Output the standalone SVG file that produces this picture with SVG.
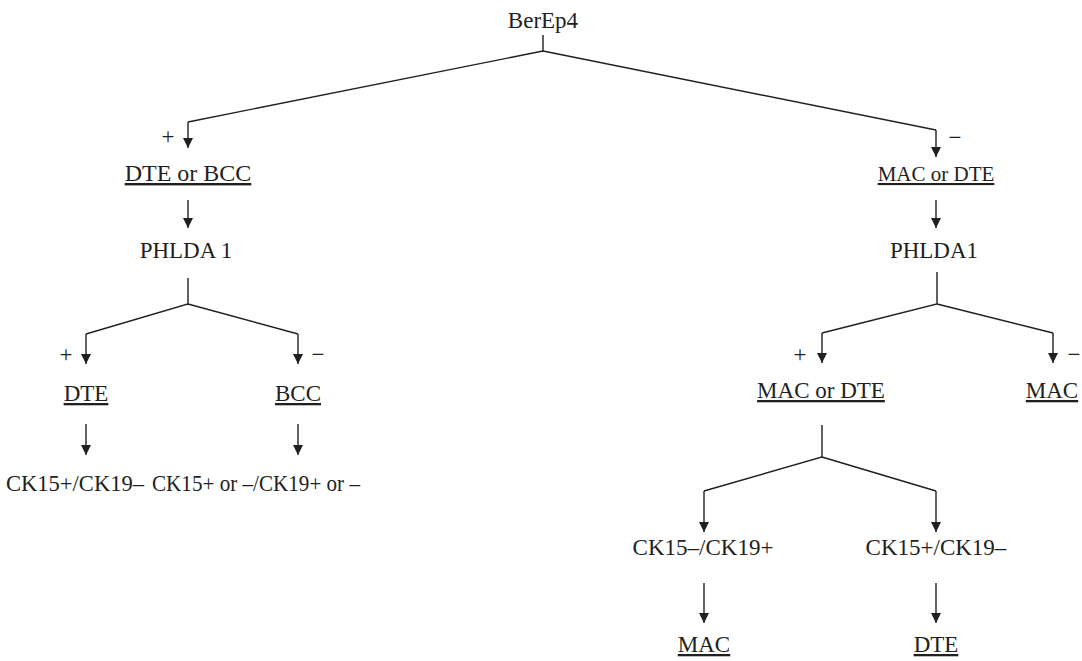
<svg xmlns="http://www.w3.org/2000/svg" width="1082" height="661" viewBox="0 0 1082 661">
<defs>
<style>
text{font-family:"Liberation Serif","Times New Roman",serif;font-size:23px;fill:#231f20;text-anchor:middle}
.u{text-decoration:underline}
.c{fill:none;stroke:#231f20;stroke-width:1.4}
</style>
<marker id="a" markerWidth="10" markerHeight="11" refX="10" refY="5" orient="auto" markerUnits="userSpaceOnUse" viewBox="0 0 10 10">
<path d="M0,0 L10,5 L0,10 Z" fill="#231f20"/>
</marker>
</defs>
<rect width="1082" height="661" fill="#fff"/>
<g id="connectors">
<path class="c" d="M543,35 V51 M543,51 L188,122 M543,51 L936,130"/>
<path class="c" d="M188,122 V148" marker-end="url(#a)"/>
<path class="c" d="M936,130 V157" marker-end="url(#a)"/>
<path class="c" d="M188,200 V228" marker-end="url(#a)"/>
<path class="c" d="M936,200 V228" marker-end="url(#a)"/>
<path class="c" d="M188,278 V304 L86,334 M188,304 L298,334"/>
<path class="c" d="M86,334 V364" marker-end="url(#a)"/>
<path class="c" d="M298,334 V364" marker-end="url(#a)"/>
<path class="c" d="M937,272 V304 L822,333 M937,304 L1053,333"/>
<path class="c" d="M822,333 V363" marker-end="url(#a)"/>
<path class="c" d="M1053,333 V363" marker-end="url(#a)"/>
<path class="c" d="M86,424 V455" marker-end="url(#a)"/>
<path class="c" d="M298,424 V455" marker-end="url(#a)"/>
<path class="c" d="M822,425 V457 L704,491 M822,457 L936,491"/>
<path class="c" d="M704,491 V532" marker-end="url(#a)"/>
<path class="c" d="M936,491 V532" marker-end="url(#a)"/>
<path class="c" d="M704,583 V623" marker-end="url(#a)"/>
<path class="c" d="M936,583 V623" marker-end="url(#a)"/>
<text x="168" y="144">+</text>
<text x="955" y="145">−</text>
<text x="66" y="362">+</text>
<text x="318" y="362">−</text>
<text x="800" y="362">+</text>
<text x="1074" y="362">−</text>
</g>
<g id="n-berep4"><text x="543" y="28">BerEp4</text></g>
<g id="n-dte-bcc"><text class="u" x="188" y="181" style="font-size:24px">DTE or BCC</text></g>
<g id="n-mac-dte-top"><text class="u" x="936" y="181" style="font-size:21px">MAC or DTE</text></g>
<g id="n-phlda-left"><text x="186" y="258">PHLDA 1</text></g>
<g id="n-phlda-right"><text x="934" y="258">PHLDA1</text></g>
<g id="n-dte"><text class="u" x="86" y="401">DTE</text></g>
<g id="n-bcc"><text class="u" x="298" y="401">BCC</text></g>
<g id="n-mac-dte"><text class="u" x="821" y="398">MAC or DTE</text></g>
<g id="n-mac-right"><text class="u" x="1052" y="398">MAC</text></g>
<g id="n-ck-left"><text x="75" y="491" textLength="138" lengthAdjust="spacingAndGlyphs">CK15+/CK19–</text></g>
<g id="n-ck-bcc"><text x="256" y="491" textLength="208" lengthAdjust="spacingAndGlyphs">CK15+ or –/CK19+ or –</text></g>
<g id="n-ck-mac"><text x="703" y="555">CK15–/CK19+</text></g>
<g id="n-ck-dte"><text x="936" y="555">CK15+/CK19–</text></g>
<g id="n-mac-bottom"><text class="u" x="704" y="652">MAC</text></g>
<g id="n-dte-bottom"><text class="u" x="936" y="652">DTE</text></g>
</svg>
